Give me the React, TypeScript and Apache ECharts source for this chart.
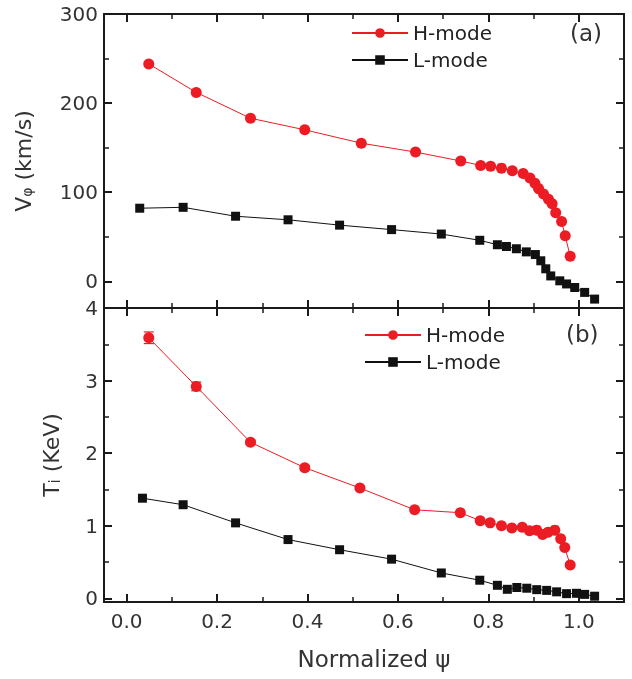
import React, { useEffect, useRef } from "react";
import * as echarts from "echarts";

// Panel (a): toroidal rotation velocity V_phi (km/s)
const vHx = [0.049, 0.154, 0.274, 0.394, 0.519, 0.639, 0.739, 0.783, 0.805, 0.829, 0.853, 0.877, 0.892, 0.903, 0.911, 0.922, 0.933, 0.941, 0.949, 0.962, 0.970, 0.981];
const vH = [244, 212, 183, 170, 155, 145, 135, 130, 129, 127, 124, 121, 116, 110, 104, 98, 92, 87, 77, 67, 51, 28];
const vLx = [0.029, 0.125, 0.241, 0.357, 0.471, 0.586, 0.696, 0.781, 0.820, 0.840, 0.862, 0.884, 0.904, 0.916, 0.927, 0.938, 0.958, 0.973, 0.991, 1.013, 1.035];
const vL = [82, 83, 73, 69, 63, 58, 53, 46, 41, 39, 36.5, 33, 30, 23, 14, 6, 0.5, -3, -7, -12.5, -20];

// Panel (b): ion temperature T_i (KeV)
const tHx = [0.049, 0.154, 0.274, 0.394, 0.516, 0.637, 0.738, 0.782, 0.804, 0.829, 0.852, 0.875, 0.891, 0.907, 0.920, 0.932, 0.947, 0.960, 0.969, 0.981];
const tH = [3.59, 2.92, 2.15, 1.8, 1.52, 1.22, 1.18, 1.07, 1.04, 1.0, 0.97, 0.98, 0.93, 0.94, 0.88, 0.91, 0.94, 0.82, 0.7, 0.46];
const tHerr = [0.08, 0.06, 0.03, 0.03, 0.02, 0, 0, 0, 0, 0, 0, 0, 0, 0, 0, 0, 0, 0, 0, 0];
const tLx = [0.035, 0.125, 0.241, 0.357, 0.471, 0.586, 0.696, 0.781, 0.820, 0.842, 0.863, 0.885, 0.907, 0.929, 0.951, 0.973, 0.995, 1.013, 1.035];
const tL = [1.38, 1.29, 1.04, 0.81, 0.67, 0.54, 0.35, 0.25, 0.18, 0.125, 0.15, 0.14, 0.12, 0.11, 0.09, 0.065, 0.07, 0.055, 0.03];

const xRange = [-0.05, 1.1];
const vRange = [-30, 300];
const tRange = [-0.05, 4];
const seriesNames = ["H-mode", "L-mode"];
const panelTags = ["(a)", "(b)"];

const RED = "#ec1c24";
const BLACK = "#111111";
const AXIS = "#1a1a1a";
const FONT = "DejaVu Sans";

const zip = (xs: number[], ys: number[]) => xs.map((x, i) => [x, ys[i]]);

export default function App() {
  const ref = useRef<HTMLDivElement>(null);
  useEffect(() => {
    if (!ref.current) return;
    const chart = echarts.init(ref.current, null, { renderer: "svg" });

    const tickCommon = () => ({
      axisLine: { show: true, onZero: false, lineStyle: { color: AXIS, width: 2 } },
      axisTick: { show: true, inside: true, length: 8, lineStyle: { color: AXIS, width: 2 } },
      minorTick: { show: true, splitNumber: 2, length: 5, lineStyle: { color: AXIS, width: 1.5 } },
      splitLine: { show: false },
    });

    const xAxisBase = (gridIndex: number, position: string, labels: boolean) => ({
      type: "value",
      gridIndex,
      position,
      min: xRange[0],
      max: xRange[1],
      splitNumber: 6,
      ...tickCommon(),
      axisLabel: {
        show: labels,
        margin: 9,
        fontFamily: FONT,
        fontSize: 20,
        color: "#333",
        formatter: (v: number) => {
          const r = Math.round(v * 10) / 10;
          if (Math.abs(v - r) > 1e-6 || r < 0 || r > 1.0001 || Math.round(r * 10) % 2 !== 0) return "";
          return r.toFixed(1);
        },
      },
    });

    const yAxisBase = (gridIndex: number, position: string, labels: boolean, range: number[], split: number, step: number) => ({
      type: "value",
      gridIndex,
      position,
      min: range[0],
      max: range[1],
      splitNumber: split,
      ...tickCommon(),
      axisLabel: {
        show: labels,
        margin: 6,
        fontFamily: FONT,
        fontSize: 20,
        color: "#333",
        formatter: (v: number) => {
          const q = v / step;
          if (Math.abs(q - Math.round(q)) > 1e-6 || v < 0) return "";
          return String(Math.round(v));
        },
      },
    });

    const legendBase = (left: number, top: number) => ({
      show: true,
      orient: "vertical",
      left,
      top,
      itemWidth: 56,
      itemHeight: 12,
      itemGap: 7,
      data: seriesNames,
      selectedMode: false,
      textStyle: { fontFamily: FONT, fontSize: 20, color: "#222" },
    });

    const lineSeries = (name: string, data: number[][], xi: number, yi: number, color: string, symbol: string, size: number) => ({
      type: "line",
      name,
      data,
      xAxisIndex: xi,
      yAxisIndex: yi,
      symbol,
      symbolSize: size,
      showSymbol: true,
      lineStyle: { color, width: 1 },
      itemStyle: { color },
    });

    const errData = tHx.map((x, i) => [x, tH[i] - tHerr[i], tH[i] + tHerr[i]]).filter((_, i) => tHerr[i] > 0);

    const tagStyle = { fontFamily: FONT, fontSize: 23, fontWeight: "normal", color: "#333" };

    const option: any = {
      animation: false,
      title: [
        { text: panelTags[0], left: 565, top: 16, textStyle: tagStyle },
        { text: panelTags[1], left: 561, top: 317, textStyle: tagStyle },
      ],
      grid: [
        { left: 104, right: 8, top: 14, height: 294 },
        { left: 104, right: 8, top: 308, height: 294 },
      ],
      legend: [legendBase(346, 18), legendBase(359, 320)],
      xAxis: [
        xAxisBase(0, "bottom", false),
        xAxisBase(0, "top", false),
        {
          ...xAxisBase(1, "bottom", true),
          name: "Normalized ψ",
          nameLocation: "middle",
          nameGap: 45,
          nameTextStyle: { fontFamily: FONT, fontSize: 23, color: "#333", padding: [0, 0, 0, 20] },
        },
        xAxisBase(1, "top", false),
      ],
      yAxis: [
        {
          ...yAxisBase(0, "left", true, vRange, 3, 100),
          name: "{v|V}{s|φ}{v| (km/s)}",
          nameLocation: "middle",
          nameGap: 70,
          nameTextStyle: {
            color: "#333",
            rich: {
              v: { fontFamily: FONT, fontSize: 22, color: "#333", lineHeight: 30, verticalAlign: "bottom" },
              s: { fontFamily: FONT, fontSize: 14, color: "#333", lineHeight: 30, verticalAlign: "bottom", padding: [12, 0, 0, 0] },
            },
          },
        },
        yAxisBase(0, "right", false, vRange, 3, 100),
        {
          ...yAxisBase(1, "left", true, tRange, 4, 1),
          name: "{v|T}{s|i}{v| (KeV)}",
          nameLocation: "middle",
          nameGap: 42,
          nameTextStyle: {
            color: "#333",
            rich: {
              v: { fontFamily: FONT, fontSize: 22, color: "#333", lineHeight: 30, verticalAlign: "bottom" },
              s: { fontFamily: FONT, fontSize: 15, color: "#333", lineHeight: 30, verticalAlign: "bottom", padding: [12, 0, 0, 0] },
            },
          },
        },
        yAxisBase(1, "right", false, tRange, 4, 1),
      ],
      series: [
        lineSeries(seriesNames[0], zip(vHx, vH), 0, 0, RED, "circle", 11),
        lineSeries(seriesNames[1], zip(vLx, vL), 0, 0, BLACK, "rect", 9),
        lineSeries(seriesNames[0], zip(tHx, tH), 2, 2, RED, "circle", 11),
        lineSeries(seriesNames[1], zip(tLx, tL), 2, 2, BLACK, "rect", 9),
        {
          type: "custom",
          name: "err",
          xAxisIndex: 2,
          yAxisIndex: 2,
          data: errData,
          renderItem: (params: any, api: any) => {
            const x = api.value(0);
            const p1 = api.coord([x, api.value(1)]);
            const p2 = api.coord([x, api.value(2)]);
            const st = { stroke: RED, lineWidth: 1.2 };
            return {
              type: "group",
              children: [
                { type: "line", shape: { x1: p1[0], y1: p1[1], x2: p2[0], y2: p2[1] }, style: st },
                { type: "line", shape: { x1: p1[0] - 5, y1: p1[1], x2: p1[0] + 5, y2: p1[1] }, style: st },
                { type: "line", shape: { x1: p2[0] - 5, y1: p2[1], x2: p2[0] + 5, y2: p2[1] }, style: st },
              ],
            };
          },
        },
      ],
    };

    chart.setOption(option);
    return () => chart.dispose();
  }, []);

  return <div ref={ref} style={{ position: "fixed", left: 0, top: 0, width: 632, height: 679 }} />;
}
